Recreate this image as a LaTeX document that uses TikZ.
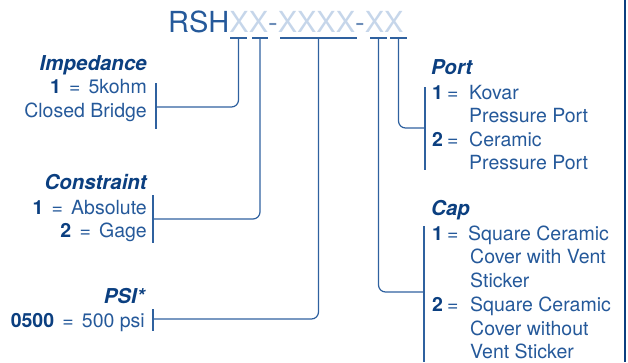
\documentclass[tikz,border=0pt]{standalone}
\usepackage{fontspec}
\setmainfont{TeX Gyre Heros}
\definecolor{navy}{HTML}{0B3F80}
\definecolor{txt}{HTML}{25599A}
\definecolor{lnc}{HTML}{2F619F}
\definecolor{xlight}{HTML}{C6D6EA}
\definecolor{dashc}{HTML}{6C8DB8}
\newcommand\numb[1]{\textcolor{navy}{\textbf{#1}}}
\newcommand\eqs{\hspace{0.42em}=\hspace{0.42em}}
\begin{document}
\begin{tikzpicture}[x=1pt,y=-1pt,
  head/.style={font=\fontsize{20.5}{24}\selectfont\bfseries\itshape, text=navy, inner sep=0pt},
  body/.style={font=\fontsize{19.5}{24}\selectfont, text=txt, inner sep=0pt},
  conn/.style={draw=lnc, line width=1.2pt, rounded corners=7pt},
  bar/.style={draw=lnc, line width=1.2pt}]
\useasboundingbox (0,0) rectangle (628,362);
% title
\node[anchor=base west, inner sep=0pt, font=\fontsize{29}{30}\selectfont] (title) at (168,32)
  {\textcolor{txt}{RSH}\textcolor{xlight}{XX}\textcolor{dashc}{-}\textcolor{xlight}{XXXX}\textcolor{dashc}{-}\textcolor{xlight}{XX}};
% underlines
\draw[bar] (230,38) -- (247,38);
\draw[bar] (252,38) -- (268,38);
\draw[bar] (280,38) -- (357,38);
\draw[bar] (370,38) -- (387,38);
\draw[bar] (390,38) -- (407,38);
\coordinate (u1) at (238.5,38);
\coordinate (u2) at (260,38);
\coordinate (u3) at (318.5,38);
\coordinate (u4) at (378.5,38);
\coordinate (u5) at (398.5,38);
% brackets
\draw[bar] (156,83) -- (156,129);
\coordinate (b1) at (156,107);
\draw[bar] (153,195) -- (153,243);
\coordinate (b2) at (153,219);
\draw[bar] (153,309) -- (153,331);
\coordinate (b3) at (153,319);
\draw[bar] (424,226) -- (424,362);
\coordinate (b4) at (424,292);
\draw[bar] (425,87) -- (425,170);
\coordinate (b5) at (425,128);
% connectors
\draw[conn] (u1) |- (b1);
\draw[conn] (u2) |- (b2);
\draw[conn] (u3) |- (b3);
\draw[conn] (u4) |- (b4);
\draw[conn] (u5) |- (b5);
% right border
\draw[draw=navy, line width=2pt] (625,0) -- (625,362);
% Impedance
\node[head, anchor=base east] (imph) at (147,70) {Impedance};
\node[body, anchor=base east] (imp1) at (147,93) {\numb{1}\eqs 5kohm};
\node[body, anchor=base east] (imp2) at (147,117) {Closed Bridge};
% Constraint
\node[head, anchor=base east] (conh) at (147,189) {Constraint};
\node[body, anchor=base east] (con1) at (147,214) {\numb{1}\eqs Absolute};
\node[body, anchor=base east] (con2) at (147,237) {\numb{2}\eqs Gage};
% PSI
\node[head, anchor=base east] (psih) at (145,303) {PSI*};
\node[body, anchor=base east] (psi1) at (145,327) {\numb{0500}\eqs 500 psi};
% Port
\node[head, anchor=base west] (porth) at (431,74) {Port};
\node[body, anchor=base west] (portn1) at (432,99) {\numb{1}};
\node[body, anchor=base west] (porte1) at (447,99) {=};
\node[body, anchor=base west] (port1) at (469,99) {Kovar};
\node[body, anchor=base west] (port1b) at (469,122) {Pressure Port};
\node[body, anchor=base west] (portn2) at (432,146) {\numb{2}};
\node[body, anchor=base west] (porte2) at (447,146) {=};
\node[body, anchor=base west] (port2) at (469,146) {Ceramic};
\node[body, anchor=base west] (port2b) at (469,169) {Pressure Port};
% Cap
\node[head, anchor=base west] (caph) at (431,215) {Cap};
\node[body, anchor=base west] (capn1) at (432,240) {\numb{1}};
\node[body, anchor=base west] (cape1) at (447,240) {=};
\node[body, anchor=base west] (cap1) at (468,240) {Square Ceramic};
\node[body, anchor=base west] (cap1b) at (470,263) {Cover with Vent};
\node[body, anchor=base west] (cap1c) at (470,287) {Sticker};
\node[body, anchor=base west] (capn2) at (432,311) {\numb{2}};
\node[body, anchor=base west] (cape2) at (447,311) {=};
\node[body, anchor=base west] (cap2) at (470,311) {Square Ceramic};
\node[body, anchor=base west] (cap2b) at (470,335) {Cover without};
\node[body, anchor=base west] (cap2c) at (470,358) {Vent Sticker};
\end{tikzpicture}
\end{document}
